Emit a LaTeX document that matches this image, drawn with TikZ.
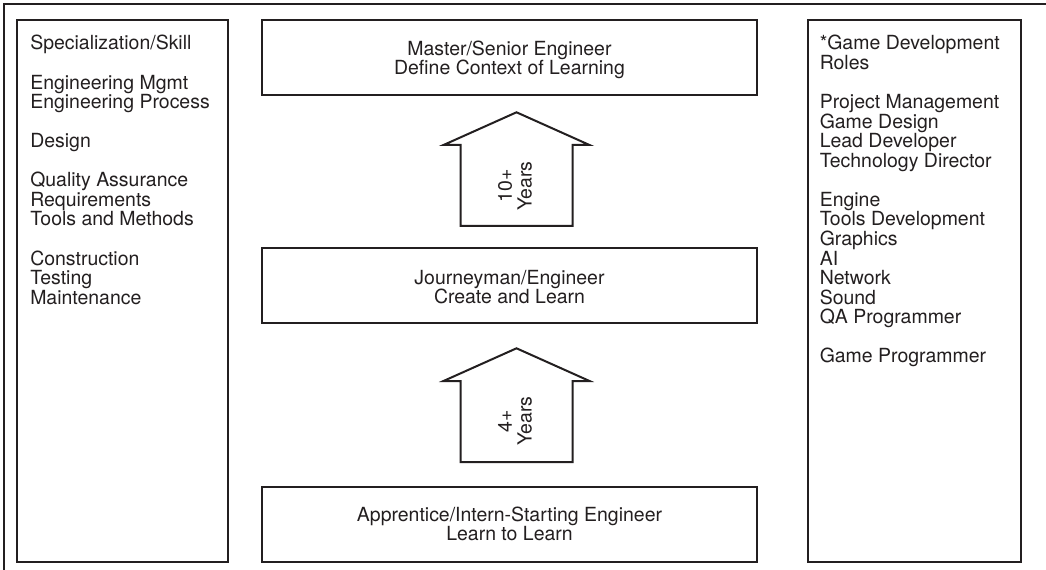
\documentclass[tikz,border=0pt]{standalone}
\usepackage{fontspec}
\setmainfont{TeX Gyre Heros}
\definecolor{ink}{RGB}{35,31,32}
\begin{document}
\begin{tikzpicture}[x=0.75pt,y=-0.75pt,
  stagebox/.style={draw=ink, line width=1.6pt, rectangle, inner sep=0pt,
    minimum height=56.25pt, minimum width=371.25pt},
  sidebox/.style={draw=ink, line width=1.6pt, rectangle, inner sep=0pt,
    minimum height=406.5pt},
  txt/.style={text=ink, inner sep=0pt, font=\fontsize{14.6}{14.66}\selectfont},
  frameline/.style={draw=ink, line width=1pt},
  uparrow/.pic={\draw[draw=ink, line width=1.5pt, line join=miter]
     (0,0) -- (-73,32.7) -- (-56,32.7) -- (-56,113.7) -- (56,113.7)
     -- (56,32.7) -- (73,32.7) -- cycle;},
]
\useasboundingbox (0,0) rectangle (1046,570);
\fill[white] (0,0) rectangle (1046,570);
% outer frame (only top and left visible)
\draw[frameline] (4,575) -- (4,4) -- (1050,4);

% side boxes
\node[sidebox, minimum width=158.25pt] (left) at (122.5,291) {};
\node[sidebox, minimum width=159.3pt] (right) at (914.5,291) {};

% stage boxes
\node[stagebox] (master) at (509.5,57.5) {};
\node[stagebox] (journey) at (509.5,285.8) {};
\node[stagebox] (appr) at (509.5,524.2) {};

\node[txt, anchor=base] (m1) at (509.5,56) {Master/Senior Engineer};
\node[txt, anchor=base] (m2) at (509.5,75) {Define Context of Learning};
\node[txt, anchor=base] (j1) at (509.5,284.3) {Journeyman/Engineer};
\node[txt, anchor=base] (j2) at (509.5,303.3) {Create and Learn};
\node[txt, anchor=base] (a1) at (509.5,521.7) {Apprentice/Intern-Starting Engineer};
\node[txt, anchor=base] (a2) at (509.5,540.7) {Learn to Learn};

% arrows
\pic at (516.5,112.3) {uparrow};
\pic at (516.5,348.3) {uparrow};
\node[txt, rotate=90, align=center] (y10) at (515,186) {10+\\Years};
\node[txt, rotate=90, align=center] (y4) at (515,421) {4+\\Years};

% left list
\node[txt, anchor=base west] (l0) at (30,50) {Specialization/Skill};
\foreach \k/\t in {2/Engineering Mgmt, 3/Engineering Process, 5/Design,
  7/Quality Assurance, 8/Requirements, 9/Tools and Methods,
  11/Construction, 12/Testing, 13/Maintenance}
  \node[txt, anchor=base west] (l\k) at (30,50+19.55*\k) {\t};

% right list
\foreach \k/\t in {0/*Game Development, 1/Roles, 3/Project Management,
  4/Game Design, 5/Lead Developer, 6/Technology Director, 8/Engine,
  9/Tools Development, 10/Graphics, 11/AI, 12/Network, 13/Sound,
  14/QA Programmer, 16/Game Programmer}
  \node[txt, anchor=base west] (r\k) at (819.5,50+19.55*\k) {\t};
\end{tikzpicture}
\end{document}
